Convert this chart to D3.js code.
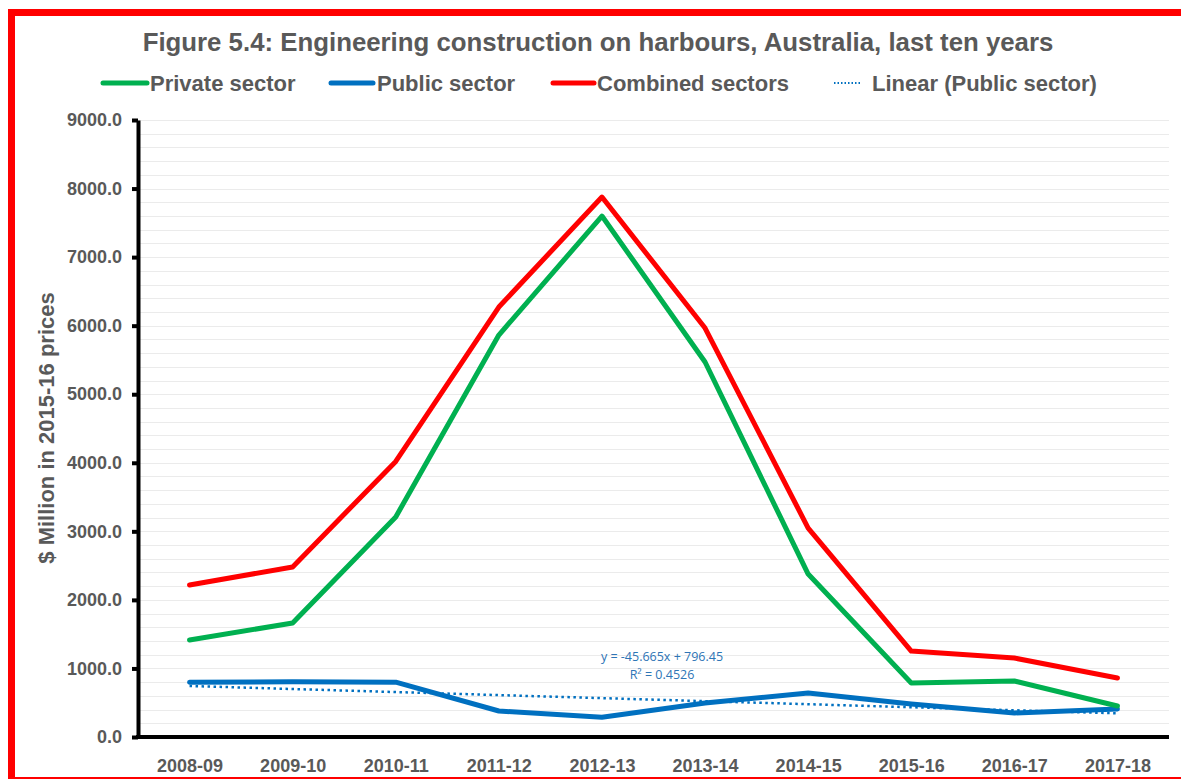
<!DOCTYPE html>
<meta charset="utf-8">
<style>
body { margin: 0; background: #fff; }
text { font-family: "Liberation Sans", Arial, sans-serif; font-weight: bold; fill: #595959; }
</style>
<svg width="1181" height="779"></svg>
<script src="https://d3js.org/d3.v7.min.js"></script>
<script>
	var years = ["2008-09", "2009-10", "2010-11", "2011-12", "2012-13", "2013-14", "2014-15", "2015-16", "2016-17", "2017-18"];
	var privateSector = [1415, 1663, 3210, 5863, 7599, 5470, 2377, 788, 817, 452];
	var publicSector = [800, 805, 800, 379, 287, 496, 642, 481, 350, 408];
	var combinedSectors = [2217, 2480, 4020, 6272, 7876, 5965, 3048, 1254, 1152, 861];
	var yTicks = [0, 1000, 2000, 3000, 4000, 5000, 6000, 7000, 8000, 9000];
	var trendLabel = ["y = -45.665x + 796.45", "R² = 0.4526"];

	var svg = d3.select("svg");
	var plotLeft = 138, plotRight = 1169, plotTop = 120, plotBottom = 737;

	// frame
	svg.append("rect")
		.attr("x", 11.5).attr("y", 12.5)
		.attr("width", 1185).attr("height", 768)
		.style("fill", "none")
		.style("stroke", "#ff0000")
		.style("stroke-width", 7);

	var x = d3.scalePoint().domain(years).range([plotLeft, plotRight]).padding(0.5);
	var y = d3.scaleLinear().domain([0, 9000]).range([plotBottom, plotTop]);

	// gridlines every 200
	svg.append("g").selectAll("line")
		.data(d3.range(200, 9001, 200))
		.enter().append("line")
		.attr("x1", plotLeft).attr("x2", plotRight)
		.attr("y1", function(d) { return Math.round(y(d)) + 0.5; })
		.attr("y2", function(d) { return Math.round(y(d)) + 0.5; })
		.style("stroke", "#ebebeb")
		.style("stroke-width", 1);

	// y axis
	var yAxis = svg.append("g")
		.attr("transform", "translate(" + plotLeft + ",0)")
		.call(d3.axisLeft(y).tickValues(yTicks).tickFormat(d3.format(".1f")).tickSize(6).tickSizeOuter(0).tickPadding(10));
	yAxis.select(".domain").style("stroke", "#000").style("stroke-width", 4);
	yAxis.selectAll(".tick line").style("stroke", "#000").style("stroke-width", 4);
	yAxis.selectAll("text")
		.style("font-family", "'Liberation Sans', Arial, sans-serif")
		.style("font-weight", "bold")
		.style("font-size", "18px")
		.style("fill", "#595959");

	// x axis
	var xAxis = svg.append("g")
		.attr("transform", "translate(0," + plotBottom + ")")
		.call(d3.axisBottom(x).tickSize(0).tickSizeOuter(0).tickPadding(22));
	xAxis.select(".domain").attr("d", "M" + (plotLeft - 2) + ",0H" + plotRight)
		.style("stroke", "#000").style("stroke-width", 4);
	xAxis.selectAll("text")
		.style("font-family", "'Liberation Sans', Arial, sans-serif")
		.style("font-weight", "bold")
		.style("font-size", "18px")
		.style("fill", "#595959");

	// trendline of public sector (least squares, like the spreadsheet)
	var n = publicSector.length;
	var xs = d3.range(1, n + 1);
	var mx = d3.mean(xs), my = d3.mean(publicSector);
	var slope = d3.sum(xs, function(v, i) { return (v - mx) * (publicSector[i] - my); }) /
		d3.sum(xs, function(v) { return (v - mx) * (v - mx); });
	var intercept = my - slope * mx;
	var trend = xs.map(function(v) { return intercept + slope * v; });

	var line = d3.line()
		.x(function(d, i) { return x(years[i]); })
		.y(function(d) { return y(d); });

	svg.append("path")
		.datum(trend)
		.attr("d", line)
		.style("fill", "none")
		.style("stroke", "#0070c0")
		.style("stroke-width", 2.5)
		.style("stroke-dasharray", "2.5,3.5");

	var series = [
		{ name: "Public sector", values: publicSector, color: "#0070c0" },
		{ name: "Private sector", values: privateSector, color: "#00b050" },
		{ name: "Combined sectors", values: combinedSectors, color: "#ff0000" }
	];
	series.forEach(function(s) {
		svg.append("path")
			.datum(s.values)
			.attr("d", line)
			.style("fill", "none")
			.style("stroke", s.color)
			.style("stroke-width", 5)
			.style("stroke-linejoin", "round")
			.style("stroke-linecap", "round");
	});

	// trend equation
	svg.selectAll(".eq")
		.data(trendLabel)
		.enter().append("text")
		.attr("class", "eq")
		.attr("x", 662)
		.attr("y", function(d, i) { return 661 + i * 18; })
		.style("text-anchor", "middle")
		.style("font-family", "'Open Sans', sans-serif")
		.style("font-weight", "normal")
		.style("font-size", "12.5px")
		.style("fill", "#2e75b6")
		.text(function(d) { return d; });

	// title
	svg.append("text")
		.attr("x", 598)
		.attr("y", 51)
		.style("text-anchor", "middle")
		.style("font-size", "25.8px")
		.text("Figure 5.4: Engineering construction on harbours, Australia, last ten years");

	// legend
	var legend = [
		{ name: "Private sector", color: "#00b050", x0: 103, x1: 147, tx: 150, dash: null },
		{ name: "Public sector", color: "#0070c0", x0: 331, x1: 373, tx: 377, dash: null },
		{ name: "Combined sectors", color: "#ff0000", x0: 553, x1: 594, tx: 597, dash: null },
		{ name: "Linear (Public sector)", color: "#0070c0", x0: 834, x1: 862, tx: 872, dash: "1.5,2" }
	];
	var lg = svg.append("g").selectAll("g").data(legend).enter().append("g");
	lg.append("line")
		.attr("x1", function(d) { return d.x0; })
		.attr("x2", function(d) { return d.x1; })
		.attr("y1", 83).attr("y2", 83)
		.style("stroke", function(d) { return d.color; })
		.style("stroke-width", function(d) { return d.dash ? 2 : 5; })
		.style("stroke-dasharray", function(d) { return d.dash; })
		.style("stroke-linecap", function(d) { return d.dash ? "butt" : "round"; });
	lg.append("text")
		.attr("x", function(d) { return d.tx; })
		.attr("y", 91)
		.style("font-size", "22px")
		.text(function(d) { return d.name; });

	// y axis title
	svg.append("text")
		.attr("transform", "translate(54,428) rotate(-90)")
		.style("text-anchor", "middle")
		.style("font-size", "22px")
		.text("$ Million in 2015-16 prices");
</script>
